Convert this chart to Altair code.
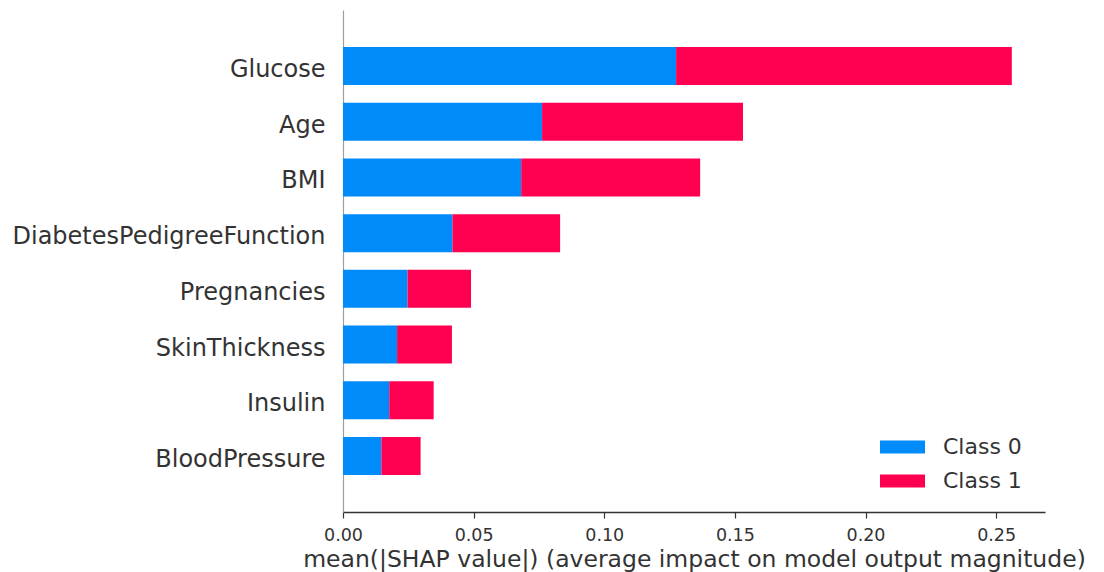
import altair as alt
import pandas as pd

features = ["Glucose", "Age", "BMI", "DiabetesPedigreeFunction",
            "Pregnancies", "SkinThickness", "Insulin", "BloodPressure"]
class0 = [0.1275, 0.0762, 0.0682, 0.0419, 0.0247, 0.0207, 0.0177, 0.0147]
class1 = [0.1285, 0.0769, 0.0685, 0.0412, 0.0243, 0.0210, 0.0170, 0.0150]
classes = ["Class 0", "Class 1"]
colors = ["#008bfb", "#ff0051"]
tick_values = [0, 0.05, 0.10, 0.15, 0.20, 0.25]

rows = []
for f, a, b in zip(features, class0, class1):
    rows.append({"feature": f, "cls": classes[0], "val": a, "ord": 0})
    rows.append({"feature": f, "cls": classes[1], "val": b, "ord": 1})
df = pd.DataFrame(rows)

bars = alt.Chart(df).mark_bar(strokeWidth=0).encode(
    x=alt.X("val:Q", stack="zero",
            scale=alt.Scale(domain=[0, 0.2687], nice=False, zero=True),
            axis=alt.Axis(title="mean(|SHAP value|) (average impact on model output magnitude)",
                          values=tick_values, format=".2f", labelFlush=False,
                          labelOverlap=False,
                          grid=False, domainColor="#333333", domainWidth=1.5,
                          tickColor="#333333", tickSize=6, tickWidth=1.2,
                          labelFont="DejaVu Sans", labelFontSize=17.5, labelColor="#333333",
                          labelPadding=8, titleFont="DejaVu Sans", titleFontSize=23.5,
                          titleFontWeight="normal", titleColor="#333333", titlePadding=4)),
    y=alt.Y("feature:N", sort=features,
            scale=alt.Scale(paddingInner=0.318, paddingOuter=0.665),
            axis=alt.Axis(title=None, ticks=False, tickSize=0, grid=False,
                          domainColor="#a0a0a0", domainWidth=1.2, labelLimit=0,
                          labelOffset=4,
                          labelFont="DejaVu Sans", labelFontSize=24, labelColor="#333333",
                          labelPadding=18)),
    color=alt.Color("cls:N", scale=alt.Scale(domain=classes, range=colors),
                    legend=alt.Legend(title=None, orient="none", legendX=537, legendY=414.5,
                                      symbolType="M-1,-0.29L1,-0.29L1,0.29L-1,0.29Z",
                                      symbolSize=2025, symbolStrokeWidth=0,
                                      labelFont="DejaVu Sans", labelFontSize=22,
                                      labelColor="#333333", labelOffset=18, rowPadding=0)),
    order=alt.Order("ord:Q", sort="ascending"),
)

chart = bars.properties(
    width=702, height=502,
    autosize=alt.AutoSizeParams(type="none"),
    padding={"left": 335, "top": 2, "right": 43, "bottom": 60},
).configure_view(stroke=None)

chart.save("out.html", embed_options={"renderer": "svg", "actions": False})
